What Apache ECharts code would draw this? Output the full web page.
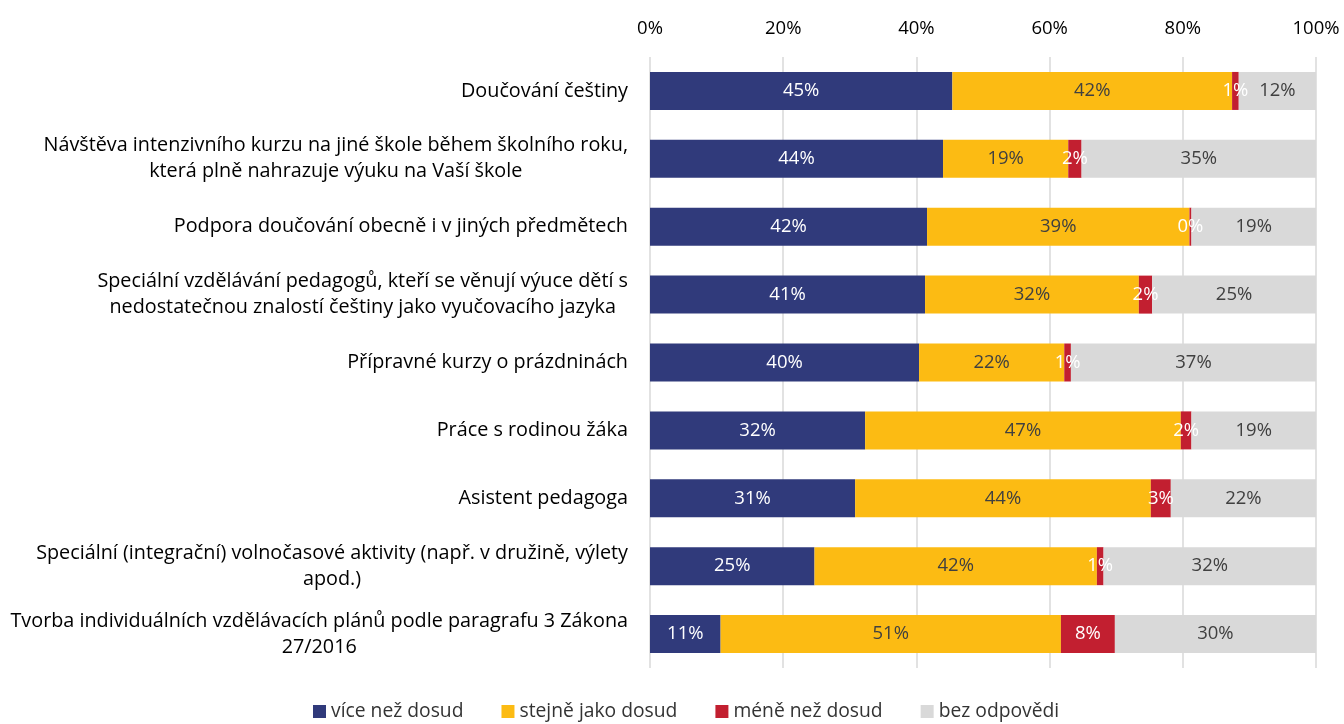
<!DOCTYPE html>
<html>
<head>
<meta charset="utf-8">
<script src="https://cdn.jsdelivr.net/npm/echarts@6/dist/echarts.min.js"></script>
<style>
  html, body { margin: 0; padding: 0; background: #fff; }
  #main { width: 1344px; height: 724px; }
</style>
</head>
<body>
<div id="main"></div>
<script>
var categories = [
  'Doučování češtiny',
  'Návštěva intenzivního kurzu na jiné škole během školního roku,\nkterá plně nahrazuje výuku na Vaší škole',
  'Podpora doučování obecně i v jiných předmětech',
  'Speciální vzdělávání pedagogů, kteří se věnují výuce dětí s\nnedostatečnou znalostí češtiny jako vyučovacího jazyka',
  'Přípravné kurzy o prázdninách',
  'Práce s rodinou žáka',
  'Asistent pedagoga',
  'Speciální (integrační) volnočasové aktivity (např. v družině, výlety\napod.)',
  'Tvorba individuálních vzdělávacích plánů podle paragrafu 3 Zákona\n27/2016'
];

var seriesNames = ['více než dosud', 'stejně jako dosud', 'méně než dosud', 'bez odpovědi'];

var viceNez = [45.4, 44.0, 41.6, 41.3, 40.4, 32.3, 30.8, 24.7, 10.6];
var stejne = [42.0, 18.8, 39.4, 32.1, 21.8, 47.4, 44.4, 42.4, 51.1];
var meneNez = [1.0, 2.0, 0.3, 2.0, 1.0, 1.6, 3.0, 1.0, 8.1];
var bezOdpovedi = [11.6, 35.2, 18.7, 24.6, 36.8, 18.7, 21.8, 31.9, 30.2];

var xTicks = [0, 20, 40, 60, 80, 100];

var colors = ['#303A7B', '#FCBB13', '#C21F30', '#D9D9D9'];
var labelColors = ['#ffffff', '#404040', '#ffffff', '#404040'];
var fontFamily = '"Open Sans", Lato, sans-serif';
var fs = 18.5;

var myChart = echarts.init(document.getElementById('main'), null, {
  width: 1344,
  height: 724,
});

function makeSeries(name, values, idx) {
  return {
    name: name,
    type: 'bar',
    stack: 'total',
    color: colors[idx],
    barWidth: 38,
    label: {
      show: true,
      position: 'inside',
      color: labelColors[idx],
      fontFamily: fontFamily,
      fontSize: fs,
      formatter: function (p) {
        return Math.round(p.value) + '%';
      }
    },
    emphasis: { disabled: true },
    data: values
  };
}

let option = {
  animation: false,
  grid: {
    left: 650,
    right: 28,
    top: 57,
    bottom: 56,
    outerBoundsMode: 'none'
  },
  legend: {
    left: 308,
    bottom: -2,
    icon: 'rect',
    itemWidth: 13,
    itemHeight: 13,
    itemGap: 38,
    textStyle: {
      color: '#333',
      fontFamily: fontFamily,
      fontSize: 19.3
    },
    data: seriesNames
  },
  xAxis: {
    type: 'value',
    position: 'top',
    min: 0,
    max: 100,
    interval: 20,
    axisLine: { show: false },
    axisTick: { show: false },
    splitLine: {
      show: true,
      lineStyle: { color: '#D9D9D9', width: 1.5 }
    },
    axisLabel: {
      margin: 19,
      color: '#000',
      fontFamily: fontFamily,
      fontSize: fs,
      formatter: function (v) {
        return xTicks.indexOf(v) >= 0 ? v + '%' : '';
      }
    }
  },
  yAxis: {
    type: 'category',
    inverse: true,
    data: categories,
    axisLine: { show: false },
    axisTick: { show: false },
    axisLabel: {
      margin: 22,
      color: '#000',
      fontFamily: fontFamily,
      fontSize: 19.8,
      lineHeight: 26,
      formatter: function (v) {
        return v.split('\n').map(function (l) { return '{c|' + l + '}'; }).join('\n');
      },
      rich: {
        c: {
          align: 'center',
          color: '#000',
          fontFamily: fontFamily,
          fontSize: 19.8,
          lineHeight: 26
        }
      }
    }
  },
  series: [
    makeSeries(seriesNames[0], viceNez, 0),
    makeSeries(seriesNames[1], stejne, 1),
    makeSeries(seriesNames[2], meneNez, 2),
    makeSeries(seriesNames[3], bezOdpovedi, 3)
  ]
};

myChart.setOption(option);
</script>
</body>
</html>
